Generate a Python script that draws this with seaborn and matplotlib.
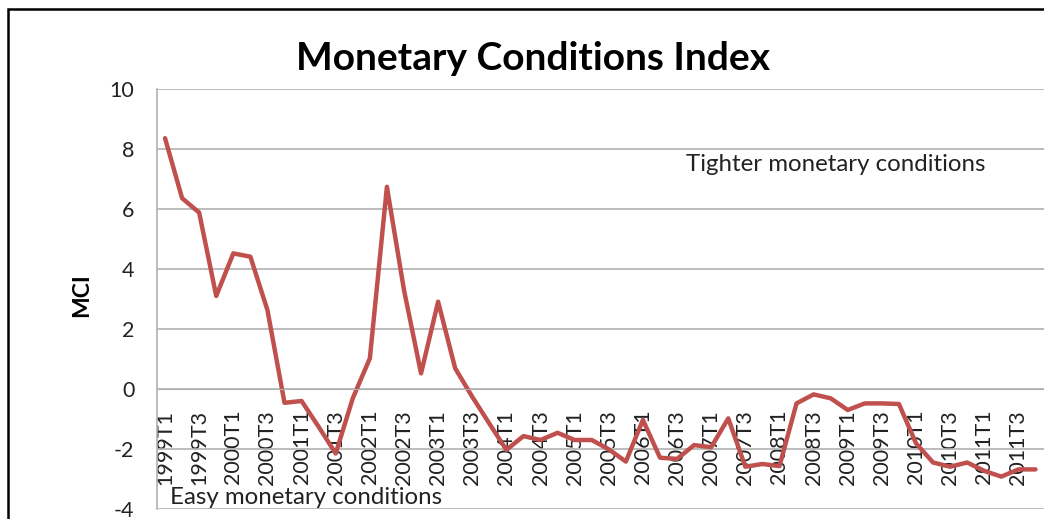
import matplotlib
matplotlib.use("Agg")
import matplotlib.pyplot as plt
from matplotlib.patches import Rectangle
import numpy as np
import pandas as pd
import seaborn as sns

# Quarterly MCI values, 1999T1 .. 2011T4
years = list(range(1999, 2012))
quarters = [f"{y}T{q}" for y in years for q in (1, 2, 3, 4)]
mci = [8.36, 6.36, 5.88, 3.10, 4.52, 4.41, 2.63, -0.46, -0.40, -1.26,
       -2.15, -0.31, 1.02, 6.74, 3.30, 0.52, 2.91, 0.69, -0.26, -1.15,
       -2.03, -1.57, -1.70, -1.46, -1.70, -1.70, -2.01, -2.42, -1.03, -2.29,
       -2.33, -1.87, -1.94, -0.98, -2.59, -2.50, -2.57, -0.48, -0.18, -0.31,
       -0.70, -0.48, -0.48, -0.50, -1.81, -2.45, -2.59, -2.45, -2.73, -2.92,
       -2.68, -2.68]
y_ticks = [-4, -2, 0, 2, 4, 6, 8, 10]

df = pd.DataFrame({"trimestre": quarters, "MCI": mci})
df["pos"] = np.arange(len(df))

sns.set_style("white")
plt.rcParams["font.family"] = ["Lato", "DejaVu Sans"]

fig = plt.figure(figsize=(10.44, 5.19), dpi=100)
ax = fig.add_axes([156.5 / 1044, 1 - 509 / 519, 887.5 / 1044, 420 / 519])

sns.lineplot(data=df, x="pos", y="MCI", ax=ax, color="#C0504D", linewidth=3.2)

ax.set_xlim(-0.5, len(df) - 0.5)
ax.set_ylim(-4, 10)
ax.set_yticks(y_ticks)
ax.set_yticklabels([str(t) for t in y_ticks], fontsize=15.5, color="#222222")
ax.yaxis.grid(True, color="#B0B0B0", linewidth=1.2)
ax.set_axisbelow(True)

# axe des categories qui croise en 0, comme dans Excel
ax.spines["bottom"].set_position(("data", 0))
ax.spines["bottom"].set_color("#B0B0B0")
ax.spines["left"].set_color("#B0B0B0")
ax.spines["left"].set_linewidth(1.2)
ax.spines["top"].set_visible(False)
ax.spines["right"].set_visible(False)
ax.set_xticks(df["pos"][::2])
ax.set_xticklabels(df["trimestre"][::2], rotation=90, fontsize=15.5, color="#222222")
ax.tick_params(axis="x", length=0, pad=15)
ax.tick_params(axis="y", length=0, pad=16)

ax.set_xlabel("")
ax.set_ylabel("MCI", fontsize=16.5, fontweight="bold", color="black")
ax.yaxis.set_label_coords(-0.072, 0.51)

ax.text(30.5, 7.47, "Tighter monetary conditions", fontsize=17.3, va="center",
        ha="left", color="#222222")
ax.text(0.3, -3.6, "Easy monetary conditions", fontsize=17.3, va="center",
        ha="left", color="#222222")

fig.text(533 / 1044, 1 - 58 / 519, "Monetary Conditions Index", fontsize=28,
         fontweight="bold", ha="center", va="center", color="black")

# cadre du graphique (coupe a droite et en bas)
fig.patches.append(Rectangle((8 / 1044, -0.1), 1.2, 1 - 9 / 519 + 0.1,
                             transform=fig.transFigure, fill=False,
                             edgecolor="black", linewidth=1.8))

plt.savefig("out.png", dpi=100)
plt.close()
